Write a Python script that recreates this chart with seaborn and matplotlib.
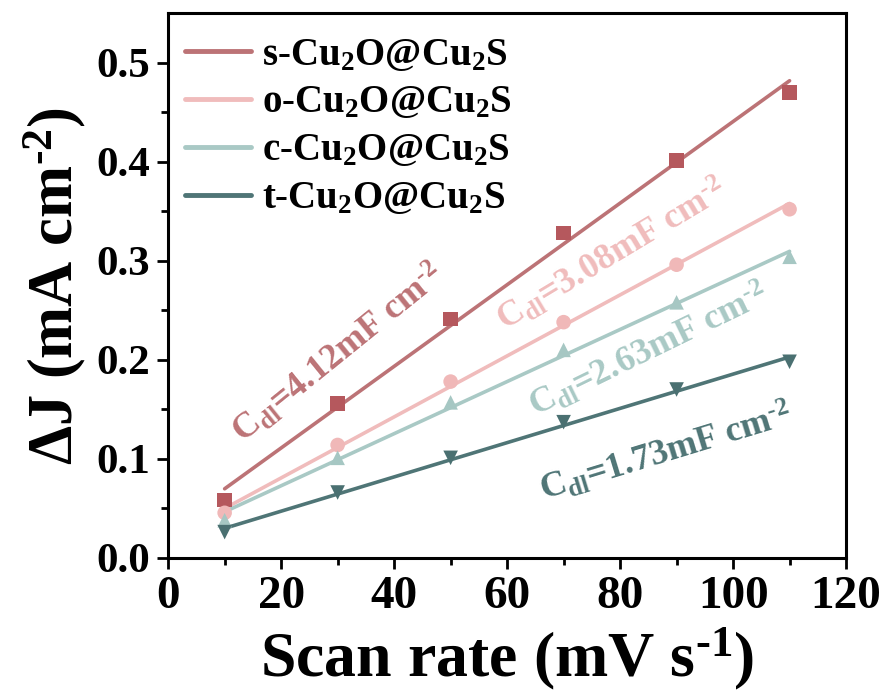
import numpy as np
import pandas as pd
import matplotlib
matplotlib.use("Agg")
import matplotlib.pyplot as plt
import seaborn as sns

# Scan rates (mV s^-1)
scan_rate = [10, 30, 50, 70, 90, 110]

# Current density difference ΔJ (mA cm^-2) for each sample
s_dj = [0.0586, 0.156, 0.241, 0.328, 0.401, 0.470]
o_dj = [0.0455, 0.114, 0.178, 0.238, 0.296, 0.352]
c_dj = [0.038, 0.101, 0.157, 0.210, 0.258, 0.304]
t_dj = [0.026, 0.066, 0.101, 0.137, 0.170, 0.198]

# Double-layer capacitance from the linear fit (mF cm^-2)
cdl = [4.12, 3.08, 2.63, 1.73]

labels = ["s-Cu$\\mathregular{_2}$O@Cu$\\mathregular{_2}$S",
          "o-Cu$\\mathregular{_2}$O@Cu$\\mathregular{_2}$S",
          "c-Cu$\\mathregular{_2}$O@Cu$\\mathregular{_2}$S",
          "t-Cu$\\mathregular{_2}$O@Cu$\\mathregular{_2}$S"]
series = [s_dj, o_dj, c_dj, t_dj]
colors = ["#bc7376", "#f0bcbc", "#a9c9c5", "#4f7576"]
marker_colors = ["#b5585d", "#f0b8b8", "#a6c7c3", "#4a7071"]
markers = ["s", "o", "^", "v"]

# annotation placement (data coords) and rotation
ann_pos = [(30.0, 0.206), (78.5, 0.306), (85.0, 0.210), (88.0, 0.107)]
ann_rot = [39, 31, 26, 17]

HY = "\u2010"  # typographic hyphen used in the unit exponents

sns.set_theme(style="ticks")
plt.rcParams["font.family"] = ["Liberation Serif", "DejaVu Serif"]
plt.rcParams["font.weight"] = "bold"
plt.rcParams["mathtext.fontset"] = "custom"
plt.rcParams["mathtext.rm"] = "Liberation Serif:bold"
plt.rcParams["mathtext.it"] = "Liberation Serif:italic:bold"
plt.rcParams["mathtext.bf"] = "Liberation Serif:bold"
for key in ("text.color", "axes.labelcolor", "xtick.color", "ytick.color",
            "axes.edgecolor"):
    plt.rcParams[key] = "black"

fig = plt.figure(figsize=(8.85, 6.93), dpi=100)
ax = fig.add_axes([0.19, 0.195, 0.766, 0.786])

x = np.array(scan_rate, dtype=float)
rows = []
fit_rows = []
for lab, ys, c in zip(labels, series, cdl):
    ys = np.array(ys)
    slope = c / 1000.0
    intercept = ys.mean() - slope * x.mean()
    for xi, yi in zip(x, ys):
        rows.append({"rate": xi, "dj": yi, "sample": lab})
    for xi in (x[0], x[-1]):
        fit_rows.append({"rate": xi, "dj": intercept + slope * xi, "sample": lab})
pts = pd.DataFrame(rows)
fits = pd.DataFrame(fit_rows)

sns.lineplot(data=fits, x="rate", y="dj", hue="sample", hue_order=labels,
             palette=colors, linewidth=2.6, ax=ax, legend=True)
for lab, mk, mc in zip(labels, markers, marker_colors):
    sns.scatterplot(data=pts[pts["sample"] == lab], x="rate", y="dj",
                    marker=mk, color=mc, s=110, edgecolor="none",
                    ax=ax, legend=False, zorder=3)

for (px, py), rot, c, col in zip(ann_pos, ann_rot, cdl, colors):
    ax.text(px, py,
            "C$\\mathregular{_{dl}}$=%.2fmF cm$\\mathregular{^{%s2}}$" % (c, HY),
            rotation=rot, rotation_mode="anchor", ha="center", va="center",
            fontsize=26, fontweight="bold", color=col)

ax.set_xlim(0, 120)
ax.set_ylim(0, 0.55)
ax.set_xticks([0, 20, 40, 60, 80, 100, 120])
ax.set_yticks([0.0, 0.1, 0.2, 0.3, 0.4, 0.5])
ax.set_xticks(np.arange(10, 120, 20), minor=True)
ax.set_yticks(np.arange(0.05, 0.55, 0.1), minor=True)
ax.tick_params(which="major", direction="out", length=8, width=2,
               top=False, right=False, pad=5)
ax.tick_params(which="minor", direction="out", length=5, width=2,
               top=False, right=False)
ax.tick_params(axis="x", which="major", labelsize=34)
ax.tick_params(axis="y", which="major", labelsize=31)
for lbl in ax.get_xticklabels() + ax.get_yticklabels():
    lbl.set_fontweight("bold")
for sp in ax.spines.values():
    sp.set_linewidth(2.2)
    sp.set_color("black")

ax.set_xlabel("Scan rate (mV s$\\mathregular{^{%s1}}$)" % HY, fontsize=46,
              fontweight="bold", labelpad=5)
ax.set_ylabel("ΔJ (mA cm$\\mathregular{^{%s2}}$)" % HY, fontsize=45,
              fontweight="bold", labelpad=6)

leg = ax.legend(loc="upper left", frameon=False, fontsize=28, handlelength=1.7,
                handletextpad=0.3, labelspacing=0.28, borderaxespad=0.2,
                bbox_to_anchor=(-0.01, 1.0))
for line in leg.get_lines():
    line.set_linewidth(3.5)
for t in leg.get_texts():
    t.set_fontweight("bold")

fig.savefig("out.png", dpi=100)
